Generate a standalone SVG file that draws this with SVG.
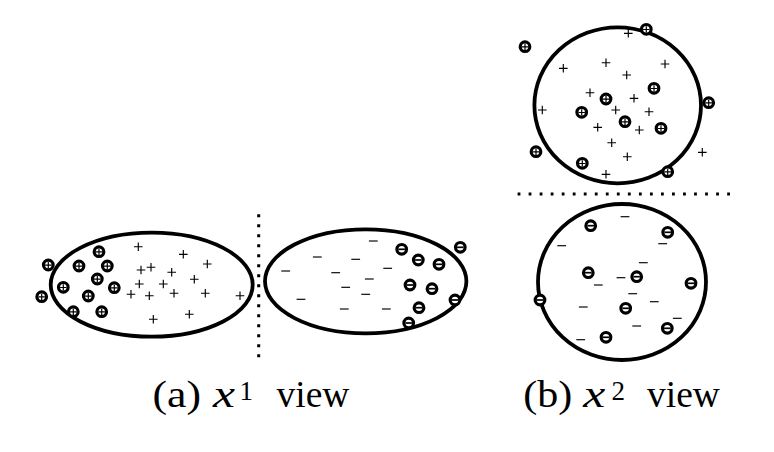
<svg xmlns="http://www.w3.org/2000/svg" xmlns:xlink="http://www.w3.org/1999/xlink" width="774" height="452" viewBox="0 0 774 452">
<style>
.shape{fill:none;stroke:#000;stroke-width:3.8}
.sign{fill:none;stroke:#000;stroke-width:1.15}
.dots{fill:none;stroke:#000}
.cap{font-family:"Liberation Serif","Times New Roman",serif;fill:#000}
</style>
<defs>
<g id="cp"><circle r="4.8" fill="#fff" stroke="#000" stroke-width="3.2"/><path d="M-3.2 0.2H3.2M0-3V3.2" stroke="#000" stroke-width="1.2"/></g>
<g id="cm"><circle r="4.8" fill="#fff" stroke="#000" stroke-width="3.2"/><path d="M-3.2 0H3.2" stroke="#000" stroke-width="1.7"/></g>
<path id="p" d="M-4.3 0H4.3M0-4.3V4.3"/>
<path id="m" d="M-4.4 0H4.4"/>
</defs>
<rect width="774" height="452" fill="#fff"/>

<g id="separators">
<line class="dots" x1="258.7" y1="214.2" x2="258.7" y2="357.2" stroke-width="3" stroke-dasharray="3 7"/>
<line class="dots" x1="517.6" y1="194" x2="731" y2="194" stroke-width="2.8" stroke-dasharray="2.8 8.23"/>
</g>

<g id="x1-positive">
<ellipse class="shape" cx="151.7" cy="284.7" rx="101" ry="52"/>
<g class="sign">
<use xlink:href="#p" x="138.3" y="246.7"/><use xlink:href="#p" x="183.3" y="254.3"/><use xlink:href="#p" x="207.3" y="264"/>
<use xlink:href="#p" x="141" y="270"/><use xlink:href="#p" x="151" y="267.3"/><use xlink:href="#p" x="171.7" y="272.3"/>
<use xlink:href="#p" x="194.3" y="279.3"/><use xlink:href="#p" x="139.3" y="284"/><use xlink:href="#p" x="163.3" y="284"/>
<use xlink:href="#p" x="131" y="294.3"/><use xlink:href="#p" x="149.3" y="295.7"/><use xlink:href="#p" x="174" y="293.3"/>
<use xlink:href="#p" x="205.3" y="293.3"/><use xlink:href="#p" x="240" y="295.7"/><use xlink:href="#p" x="153.3" y="319.3"/>
<use xlink:href="#p" x="189.3" y="314.3"/>
</g>
<use xlink:href="#cp" x="48.3" y="265"/><use xlink:href="#cp" x="99" y="251.7"/><use xlink:href="#cp" x="79" y="266"/>
<use xlink:href="#cp" x="107.3" y="266"/><use xlink:href="#cp" x="97.3" y="279"/><use xlink:href="#cp" x="63.3" y="287.3"/>
<use xlink:href="#cp" x="114.3" y="287.7"/><use xlink:href="#cp" x="88.3" y="296"/><use xlink:href="#cp" x="41.7" y="296.7"/>
<use xlink:href="#cp" x="73.3" y="311.7"/><use xlink:href="#cp" x="101.7" y="311.7"/>
</g>

<g id="x1-negative">
<ellipse class="shape" cx="365.7" cy="281.3" rx="100.7" ry="52"/>
<g class="sign">
<use xlink:href="#m" x="373.3" y="241"/><use xlink:href="#m" x="317.3" y="257"/><use xlink:href="#m" x="355.7" y="259.3"/>
<use xlink:href="#m" x="285.7" y="271"/><use xlink:href="#m" x="335.7" y="272.7"/><use xlink:href="#m" x="387.7" y="268.3"/>
<use xlink:href="#m" x="369.3" y="279"/><use xlink:href="#m" x="345.7" y="287.3"/><use xlink:href="#m" x="365.7" y="294.3"/>
<use xlink:href="#m" x="301" y="299.3"/><use xlink:href="#m" x="344.3" y="309"/><use xlink:href="#m" x="386.3" y="309"/>
</g>
<use xlink:href="#cm" x="401.7" y="249.3"/><use xlink:href="#cm" x="460.3" y="247.3"/><use xlink:href="#cm" x="418.3" y="260"/>
<use xlink:href="#cm" x="439" y="264.3"/><use xlink:href="#cm" x="410" y="285"/><use xlink:href="#cm" x="432" y="288.7"/>
<use xlink:href="#cm" x="455" y="300"/><use xlink:href="#cm" x="419" y="307.7"/><use xlink:href="#cm" x="408.7" y="323"/>
</g>

<g id="x2-positive">
<ellipse class="shape" cx="617.7" cy="105.3" rx="83.3" ry="78"/>
<g class="sign">
<use xlink:href="#p" x="628.3" y="33.3"/><use xlink:href="#p" x="563.3" y="68.3"/><use xlink:href="#p" x="606" y="62.7"/>
<use xlink:href="#p" x="665" y="64"/><use xlink:href="#p" x="626.7" y="75"/><use xlink:href="#p" x="590" y="92.7"/>
<use xlink:href="#p" x="634" y="98.3"/><use xlink:href="#p" x="542.3" y="110"/><use xlink:href="#p" x="615.7" y="110"/>
<use xlink:href="#p" x="649" y="111.7"/><use xlink:href="#p" x="597.7" y="127.3"/><use xlink:href="#p" x="639.3" y="130"/>
<use xlink:href="#p" x="611.7" y="142.7"/><use xlink:href="#p" x="702.3" y="152.3"/><use xlink:href="#p" x="627.3" y="156.7"/>
<use xlink:href="#p" x="606" y="174.3"/>
</g>
<use xlink:href="#cp" x="525" y="46.7"/><use xlink:href="#cp" x="646.3" y="29.3"/><use xlink:href="#cp" x="654" y="88.3"/>
<use xlink:href="#cp" x="606" y="99"/><use xlink:href="#cp" x="581.7" y="112.3"/><use xlink:href="#cp" x="708.7" y="102.7"/>
<use xlink:href="#cp" x="625" y="121.7"/><use xlink:href="#cp" x="661" y="128.3"/><use xlink:href="#cp" x="536" y="151.7"/>
<use xlink:href="#cp" x="582.3" y="163.3"/><use xlink:href="#cp" x="667.7" y="171.7"/>
</g>

<g id="x2-negative">
<ellipse class="shape" cx="622" cy="282" rx="84" ry="78"/>
<g class="sign">
<use xlink:href="#m" x="625" y="216.7"/><use xlink:href="#m" x="561.7" y="245.7"/><use xlink:href="#m" x="662.7" y="243.7"/>
<use xlink:href="#m" x="643.3" y="262.7"/><use xlink:href="#m" x="621" y="277.7"/><use xlink:href="#m" x="598.3" y="285"/>
<use xlink:href="#m" x="632.7" y="293.7"/><use xlink:href="#m" x="654.3" y="301.7"/><use xlink:href="#m" x="583.3" y="307"/>
<use xlink:href="#m" x="677.3" y="318.3"/><use xlink:href="#m" x="636.7" y="326"/><use xlink:href="#m" x="580.7" y="339.7"/>
</g>
<use xlink:href="#cm" x="590.7" y="225.7"/><use xlink:href="#cm" x="667.7" y="232.3"/><use xlink:href="#cm" x="588.3" y="272.7"/>
<use xlink:href="#cm" x="636.7" y="276.7"/><use xlink:href="#cm" x="691" y="283.3"/><use xlink:href="#cm" x="540" y="300"/>
<use xlink:href="#cm" x="625.7" y="308.3"/><use xlink:href="#cm" x="667.3" y="328.3"/><use xlink:href="#cm" x="606" y="337.3"/>
</g>

<g id="caption-a" class="cap">
<text x="152.5" y="407" font-size="38" textLength="48.5" lengthAdjust="spacingAndGlyphs">(a)</text>
<text x="213" y="407" font-size="38" font-style="italic" textLength="22" lengthAdjust="spacingAndGlyphs">x</text>
<text x="239.5" y="399.5" font-size="27">1</text>
<text x="276.5" y="407" font-size="37.5">view</text>
</g>
<g id="caption-b" class="cap">
<text x="523.3" y="407" font-size="38" textLength="49" lengthAdjust="spacingAndGlyphs">(b)</text>
<text x="583.3" y="407" font-size="38" font-style="italic" textLength="22" lengthAdjust="spacingAndGlyphs">x</text>
<text x="611.5" y="399.5" font-size="27">2</text>
<text x="647" y="407" font-size="37.5">view</text>
</g>
</svg>
